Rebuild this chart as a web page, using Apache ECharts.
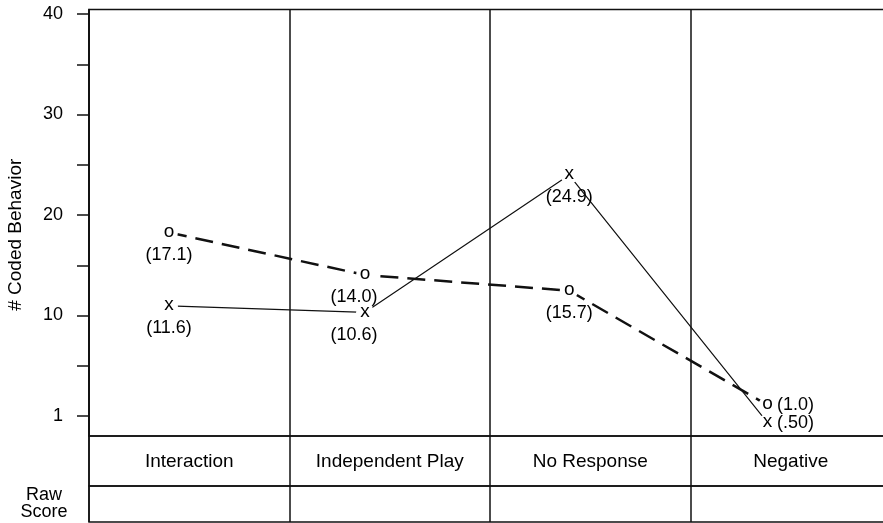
<!DOCTYPE html>
<html>
<head>
<meta charset="utf-8">
<script src="https://cdn.jsdelivr.net/npm/echarts@6/dist/echarts.min.js"></script>
<style>
  html, body { margin: 0; padding: 0; background: #fff; }
  #chart { width: 883px; height: 523px; }
</style>
</head>
<body>
<div id="chart"></div>
<script>
// ---- data ----
const categories = ['Interaction', 'Independent Play', 'No Response', 'Negative'];
const pointX = [0.399, 1.377, 2.395, 3.384];          // horizontal placement inside each category column (axis units)
const oValues = [18.26, 14.03, 12.47, 1.09];           // "o" series, as plotted
const xValues = [10.95, 10.32, 23.98, -0.67];          // "x" series, as plotted
const oLabels = ['(17.1)', '(14.0)', '(15.7)', '(1.0)'];
const xLabels = ['(11.6)', '(10.6)', '(24.9)', '(.50)'];
const yTickValues = [0, 5, 10, 15, 20, 25, 30, 35, 40];
const yLabelValues = [0, 10, 20, 30, 40];
const yLabelTexts = ['1', '10', '20', '30', '40'];
const yTitle = '# Coded Behavior';
const rowLabel = 'Raw\nScore';

// ---- styles ----
const FONT = '"Liberation Sans", Arial, Helvetica, sans-serif';
const INK = '#000';
const annotPlacement = [
  { position: 'inside', offset: [0, 22.5] },
  { position: 'inside', offset: [-11, 22.5] },
  { position: 'inside', offset: [0, 22.5] },
  { position: 'right', distance: 9, offset: [0, 0] }
];
const splitStyle = { show: true, lineStyle: { color: '#111', width: 1.5 } };
const gridStyle = { show: true, borderColor: '#111', borderWidth: 1.5, backgroundColor: 'transparent', outerBoundsMode: 'none', containLabel: false };
const annotText = { fontSize: 18, color: INK, fontFamily: FONT, textBorderWidth: 0, opacity: 1 };

function pts(vals) { return pointX.map((x, i) => [x, vals[i]]); }
function annot(vals, labels) {
  return pointX.map((x, i) => ({
    value: [x, vals[i]],
    label: Object.assign({ show: true, formatter: labels[i] }, annotText, annotPlacement[i])
  }));
}
function markerSeries(name, vals, glyph, lineStyle) {
  return {
    type: 'line', name: name, xAxisIndex: 0, yAxisIndex: 0,
    data: pts(vals), symbol: 'circle', symbolSize: 18, showSymbol: true,
    itemStyle: { color: '#fff', borderWidth: 0 },
    lineStyle: lineStyle,
    label: { show: true, position: 'inside', formatter: glyph, fontSize: 19, color: INK, fontFamily: FONT,
      offset: [0, -1], textBorderWidth: 0 },
    silent: true, emphasis: { disabled: true }, z: 3
  };
}
function annotSeries(vals, labels) {
  return {
    type: 'scatter', xAxisIndex: 0, yAxisIndex: 0,
    data: annot(vals, labels), symbolSize: 1,
    itemStyle: { color: '#fff', opacity: 0 },
    label: annotText,
    silent: true, emphasis: { disabled: true }, z: 4
  };
}

const chart = echarts.init(document.getElementById('chart'), null, { renderer: 'canvas' });
chart.setOption({
  animation: false,
  backgroundColor: '#fff',
  textStyle: { fontFamily: FONT, color: INK },
  grid: [
    Object.assign({ left: 89, top: 9.5, width: 802, height: 426.5 }, gridStyle),
    Object.assign({ left: 89, top: 436, width: 802, height: 50 }, gridStyle),
    Object.assign({ left: 89, top: 486, width: 802, height: 36 }, gridStyle)
  ],
  xAxis: [
    { type: 'value', gridIndex: 0, min: 0, max: 4, interval: 1,
      axisLine: { show: false }, axisTick: { show: false }, axisLabel: { show: false }, splitLine: splitStyle },
    { type: 'category', gridIndex: 0, data: categories, position: 'bottom',
      axisLine: { show: false }, axisTick: { show: false }, splitLine: { show: false },
      axisLabel: { fontSize: 19, color: INK, fontFamily: FONT, margin: 26, verticalAlign: 'middle', interval: 0 } },
    { type: 'value', gridIndex: 1, min: 0, max: 4, interval: 1,
      axisLine: { show: false }, axisTick: { show: false }, axisLabel: { show: false }, splitLine: splitStyle },
    { type: 'value', gridIndex: 2, min: 0, max: 4, interval: 1,
      axisLine: { show: false }, axisTick: { show: false }, axisLabel: { show: false }, splitLine: splitStyle }
  ],
  yAxis: [
    { type: 'value', gridIndex: 0, min: -1.99, max: 40.45,
      axisLine: { show: true, lineStyle: { color: '#111', width: 1.5 } },
      axisTick: { show: true, length: 12, customValues: yTickValues, lineStyle: { color: '#111', width: 1.5 } },
      axisLabel: { customValues: yLabelValues, fontSize: 18, color: INK, fontFamily: FONT, margin: 26,
        formatter: function (v) { const i = yLabelValues.indexOf(Math.round(v)); return i >= 0 ? yLabelTexts[i] : ''; } },
      splitLine: { show: false },
      name: yTitle, nameLocation: 'middle', nameGap: 64,
      nameTextStyle: { fontSize: 19, color: INK, fontFamily: FONT, padding: [0, 24, 0, 0] } },
    { type: 'value', gridIndex: 1, show: false },
    { type: 'category', gridIndex: 2, data: [rowLabel],
      axisLine: { show: false }, axisTick: { show: false }, splitLine: { show: false },
      axisLabel: { align: 'center', margin: 45, fontSize: 18, lineHeight: 17, color: INK, fontFamily: FONT } }
  ],
  series: [
    markerSeries('o', oValues, 'o', { color: '#111', width: 2.5, type: [18, 9] }),
    markerSeries('x', xValues, 'x', { color: '#111', width: 1.2, type: 'solid' }),
    annotSeries(oValues, oLabels),
    annotSeries(xValues, xLabels)
  ]
});
</script>
</body>
</html>
